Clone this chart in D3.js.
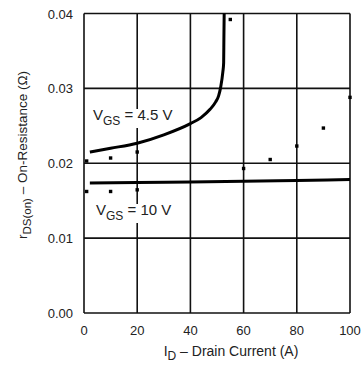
<!DOCTYPE html>
<html>
<head>
<meta charset="utf-8">
<script src="https://cdn.jsdelivr.net/npm/d3@7"></script>
<style>
  body { margin: 0; background: #fff; }
  text { font-family: "Liberation Sans", Arial, Helvetica, sans-serif; fill: #222; }
</style>
</head>
<body>
<div id="chart"></div>
<script>
// Data
const xTicks = [0, 20, 40, 60, 80, 100];
const yTicks = [0, 0.01, 0.02, 0.03, 0.04];

// V_GS = 4.5 V curve (drain current A, r_DS(on) ohm)
const curve45 = [
  [2.2, 0.0215], [10, 0.0220], [20, 0.02268], [30, 0.0238], [40, 0.0253],
  [44, 0.0261], [47.4, 0.0272], [49.5, 0.0282], [50.6, 0.0290],
  [51.4, 0.0302], [52.2, 0.0322], [52.5, 0.0334], [52.6, 0.0370], [52.7, 0.0400]
];

// V_GS = 10 V curve
const curve10 = [
  [2.2, 0.01737], [20, 0.01743], [40, 0.01750], [60, 0.01758], [80, 0.01770], [100, 0.01783]
];

// loose measured points
const dots = [
  [1, 0.0203], [10, 0.0207], [20, 0.0215], [55, 0.0392], [60, 0.0193],
  [70, 0.0205], [80, 0.0223], [90, 0.0247], [100, 0.0288],
  [1, 0.01623], [10, 0.01623], [20, 0.01645]
];

const width = 362;
const height = 368;
const margin = { left: 84, right: 12, top: 13.5, bottom: 55 };

const svg = d3.select("#chart")
  .append("svg")
  .attr("width", width)
  .attr("height", height);

const x = d3.scaleLinear().domain([0, 100]).range([margin.left, width - margin.right]);
const y = d3.scaleLinear().domain([0, 0.04]).range([height - margin.bottom, margin.top]);

// grid
svg.append("g")
  .selectAll("line.vx")
  .data(xTicks)
  .enter()
  .append("line")
  .attr("x1", (d) => x(d))
  .attr("x2", (d) => x(d))
  .attr("y1", y(0))
  .attr("y2", y(0.04))
  .attr("stroke", "#111")
  .attr("stroke-width", 1.6);

svg.append("g")
  .selectAll("line.hy")
  .data(yTicks)
  .enter()
  .append("line")
  .attr("x1", x(0))
  .attr("x2", x(100))
  .attr("y1", (d) => y(d))
  .attr("y2", (d) => y(d))
  .attr("stroke", "#111")
  .attr("stroke-width", 1.6);

// tick labels
svg.append("g")
  .selectAll("text")
  .data(xTicks)
  .enter()
  .append("text")
  .attr("x", (d) => x(d))
  .attr("y", y(0) + 22)
  .attr("text-anchor", "middle")
  .style("font-size", "13px")
  .text((d) => d);

svg.append("g")
  .selectAll("text")
  .data(yTicks)
  .enter()
  .append("text")
  .attr("x", x(0) - 11)
  .attr("y", (d) => y(d) + 5)
  .attr("text-anchor", "end")
  .style("font-size", "13px")
  .text((d) => d.toFixed(2));

// curves
const line = d3.line()
  .x((d) => x(d[0]))
  .y((d) => y(d[1]))
  .curve(d3.curveMonotoneX);

[curve45, curve10].forEach((c) => {
  svg.append("path")
    .datum(c)
    .attr("d", line)
    .attr("fill", "none")
    .attr("stroke", "#000")
    .attr("stroke-width", 3);
});

// dots
svg.append("g")
  .selectAll("rect")
  .data(dots)
  .enter()
  .append("rect")
  .attr("x", (d) => x(d[0]) - 1.7)
  .attr("y", (d) => y(d[1]) - 1.7)
  .attr("width", 3.4)
  .attr("height", 3.4)
  .attr("fill", "#000");

// curve labels with a white box behind
function subLabel(px, py, main, sub, rest) {
  const g = svg.append("g");
  const bg = g.append("rect").attr("fill", "#fff");
  const t = g.append("text")
    .attr("x", px)
    .attr("y", py)
    .style("font-size", "15px");
  t.append("tspan").text(main);
  t.append("tspan").attr("dy", 5).style("font-size", "12px").text(sub);
  t.append("tspan").attr("dy", -5).text(rest);
  const b = t.node().getBBox();
  bg.attr("x", b.x - 2).attr("y", b.y + 3).attr("width", b.width + 4).attr("height", b.height - 3);
}

subLabel(93, 120, "V", "GS", " = 4.5 V");
subLabel(96, 215, "V", "GS", " = 10 V");

// axis titles
const xt = svg.append("text")
  .attr("x", 231)
  .attr("y", 356)
  .attr("text-anchor", "middle")
  .style("font-size", "14px");
xt.append("tspan").text("I");
xt.append("tspan").attr("dy", 4).style("font-size", "12px").text("D");
xt.append("tspan").attr("dy", -4).text(" \u2013 Drain Current (A)");

const yt = svg.append("text")
  .attr("transform", `translate(27, 155) rotate(-90)`)
  .attr("text-anchor", "middle")
  .style("font-size", "13.5px");
yt.append("tspan").text("r");
yt.append("tspan").attr("dy", 4).style("font-size", "11.5px").text("DS(on)");
yt.append("tspan").attr("dy", -4).text(" \u2013 On-Resistance (\u03a9)");
</script>
</body>
</html>
